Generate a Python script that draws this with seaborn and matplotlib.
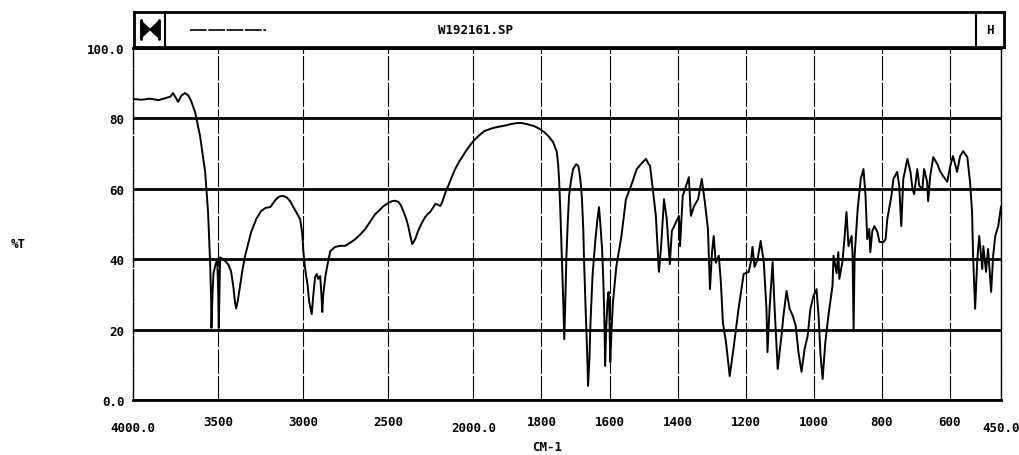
import numpy as np
import pandas as pd
import matplotlib
matplotlib.use("Agg")
import matplotlib.pyplot as plt
from matplotlib.patches import Polygon
import seaborn as sns

# ---------------- data ----------------
wavenumber = [
    4000, 3950, 3900, 3850, 3806, 3780, 3765, 3750, 3735, 3715, 3694, 3675, 3659, 3635, 3606,
    3576, 3559, 3547, 3541, 3539, 3533, 3527, 3515, 3505, 3499, 3496, 3492, 3488, 3470, 3459,
    3440, 3424, 3410, 3400, 3394, 3385, 3371, 3355, 3341, 3306, 3275, 3247, 3220, 3194, 3175,
    3159, 3140, 3118, 3095, 3077, 3060, 3041, 3018, 3006, 3000, 2995, 2985, 2975, 2965, 2959,
    2950, 2942, 2930, 2920, 2912, 2900, 2893, 2888, 2882, 2870, 2859, 2841, 2812, 2780, 2753,
    2720, 2694, 2665, 2635, 2605, 2577, 2550, 2530, 2500, 2477, 2460, 2441, 2425, 2412, 2395,
    2383, 2370, 2359, 2350, 2342, 2325, 2312, 2295, 2283, 2265, 2254, 2235, 2224, 2210, 2195,
    2185, 2177, 2160, 2148, 2130, 2107, 2080, 2048, 2025, 2000,
    1985, 1968, 1945, 1927, 1905, 1889, 1870, 1859, 1840, 1821, 1805, 1792, 1780, 1766, 1755,
    1751, 1748, 1745, 1740, 1736, 1733, 1730, 1727, 1723, 1719, 1713, 1707, 1698, 1692, 1689,
    1684, 1681, 1677, 1675, 1670, 1666, 1663, 1659, 1656, 1650, 1642, 1636, 1631, 1627, 1622,
    1618, 1615, 1613, 1610, 1606, 1603, 1601, 1598, 1594, 1590, 1580, 1565, 1552, 1537, 1520,
    1508, 1493, 1485, 1481, 1473, 1464, 1455, 1449, 1440, 1432, 1423, 1417, 1405, 1396, 1393,
    1385, 1378, 1367, 1361, 1352, 1340, 1329, 1320, 1311, 1305, 1299, 1294, 1288, 1279, 1273,
    1267, 1258, 1247, 1236, 1221, 1206, 1191, 1185, 1180, 1174, 1165, 1156, 1147, 1139, 1136,
    1130, 1121, 1115, 1106, 1095, 1089, 1080, 1071, 1062, 1053, 1045, 1036, 1027, 1018, 1010,
    1001, 992, 986, 980, 974, 966, 957, 945, 942, 933, 928, 925, 916, 910, 904,
    898, 889, 886, 883, 880, 871, 862, 854, 848, 843, 837, 834, 828, 822, 813,
    807, 795, 789, 784, 772, 766, 755, 749, 743, 737, 725, 716, 710, 705, 696,
    690, 681, 676, 667, 664, 658, 649, 637, 629, 620, 608, 599, 591, 579, 570,
    561, 549, 541, 535, 532, 526, 520, 514, 505, 502, 494, 488, 479, 473, 467,
    458, 450,
]
transmittance = [
    85.5, 85.3, 85.6, 85.2, 85.8, 86.2, 87.2, 86.0, 84.7, 86.5, 87.2, 86.5, 85.0, 81.8, 75.0,
    64.8, 53.4, 39.2, 28.7, 20.5, 30.0, 36.0, 38.5, 40.0, 30.0, 20.5, 30.0, 40.5, 40.0, 39.5,
    38.5, 36.6, 32.0, 27.5, 26.0, 28.0, 32.4, 37.5, 41.0, 47.7, 51.5, 53.7, 54.6, 54.8, 56.0,
    57.1, 57.8, 58.0, 57.5, 56.5, 55.0, 53.4, 51.4, 47.5, 43.0, 40.0, 36.0, 33.0, 28.0, 26.5,
    24.4, 29.0, 35.0, 35.8, 34.4, 35.2, 30.0, 25.0, 30.0, 35.0, 38.0, 42.3, 43.5, 43.8, 43.8,
    44.8, 45.7, 47.0, 48.6, 50.8, 52.8, 54.0, 55.0, 56.0, 56.5, 56.6, 56.3, 55.2, 53.7, 51.5,
    49.4, 46.5, 44.3, 45.0, 45.7, 48.0, 49.4, 51.0, 52.0, 53.0, 53.4, 54.8, 55.7, 55.5, 55.1,
    56.0, 57.1, 59.5, 60.8, 63.0, 65.6, 68.0, 70.4, 72.0, 73.6,
    75.0, 76.4, 77.2, 77.6, 78.0, 78.4, 78.7, 78.7, 78.3, 77.8, 77.0, 76.1, 75.0, 73.3, 70.5,
    67.0, 62.0, 55.0, 40.0, 28.0, 17.3, 28.0, 40.0, 50.0, 58.0, 62.5, 65.6, 67.0, 66.5, 65.0,
    61.0, 57.0, 48.0, 40.0, 25.0, 14.0, 4.0, 12.0, 22.0, 35.3, 45.0, 51.0, 54.8, 50.0, 43.0,
    33.0, 22.0, 9.7, 20.0, 28.0, 30.7, 27.0, 10.8, 20.0, 27.8, 38.0, 46.6, 57.0, 60.8, 65.6,
    67.0, 68.5, 67.0, 66.5, 60.0, 52.3, 36.4, 43.0, 57.0, 51.4, 38.6, 48.0, 50.5, 52.3, 43.7,
    58.0, 60.0, 63.3, 52.3, 55.0, 57.0, 62.8, 56.2, 48.6, 31.5, 42.0, 46.6, 39.0, 41.0, 33.5,
    22.0, 16.5, 6.8, 14.5, 25.9, 35.8, 36.4, 39.2, 43.5, 37.8, 40.0, 45.2, 39.2, 25.9, 13.6,
    25.9, 39.2, 25.9, 8.8, 18.2, 24.0, 31.0, 25.9, 24.0, 21.0, 13.6, 8.0, 14.5, 18.2, 25.9,
    29.5, 31.5, 23.9, 12.5, 6.0, 16.5, 24.0, 32.4, 41.0, 36.0, 42.0, 34.4, 39.2, 45.7, 53.4,
    43.7, 46.6, 41.0, 20.2, 41.0, 54.3, 62.8, 65.6, 58.0, 45.7, 48.6, 42.0, 48.0, 49.4, 47.7,
    44.9, 44.9, 45.7, 51.4, 58.0, 62.8, 64.8, 60.8, 49.4, 62.8, 68.5, 64.8, 60.0, 58.5, 65.6,
    60.8, 60.0, 65.6, 62.0, 56.5, 63.6, 69.0, 67.0, 65.0, 63.6, 62.0, 66.5, 69.3, 64.8, 69.3,
    70.7, 69.0, 62.0, 53.4, 41.0, 25.9, 39.2, 46.6, 37.2, 43.7, 36.4, 42.9, 30.7, 41.0, 46.6,
    49.4, 55.0,
]
x_ticks = [4000, 3500, 3000, 2500, 2000, 1800, 1600, 1400, 1200, 1000, 800, 600, 450]
x_tick_labels = ["4000.0", "3500", "3000", "2500", "2000.0", "1800", "1600", "1400",
                 "1200", "1000", "800", "600", "450.0"]
y_ticks = [0, 20, 40, 60, 80, 100]
y_tick_labels = ["0.0", "20", "40", "60", "80", "100.0"]
title_text = "W192161.SP"
y_label = "%T"
x_label = "CM-1"

df = pd.DataFrame({"wn": wavenumber, "T": transmittance})

# ---------------- style ----------------
sns.set_theme(style="white")
plt.rcParams["font.family"] = ["DejaVu Sans Mono", "DejaVu Sans"]
plt.rcParams["font.weight"] = "bold"
FS = 9

W, H = 1020, 456
fig = plt.figure(figsize=(W / 100, H / 100), dpi=100)
fig.patch.set_facecolor("white")

def fx(px):
    return px / W

def fy(py):
    return 1 - py / H

ax = fig.add_axes([fx(133), fy(401), (1001 - 133) / W, (401 - 49) / H])
ax.set_facecolor("white")

# piecewise-linear wavenumber scale (2x expansion below 2000 cm-1)
def fwd(x):
    x = np.asarray(x, dtype=float)
    return np.where(x >= 2000, x - 2000, 2 * (x - 2000))

def inv(u):
    u = np.asarray(u, dtype=float)
    return np.where(u >= 0, u + 2000, u / 2 + 2000)

ax.set_xscale("function", functions=(fwd, inv))

sns.lineplot(data=df, x="wn", y="T", ax=ax, color="black", linewidth=1.4,
             sort=False, estimator=None, legend=False)

ax.set_xlim(4000, 450)
ax.set_ylim(0, 100)
ax.set_xticks(x_ticks)
ax.set_xticklabels(x_tick_labels)
ax.set_yticks(y_ticks)
ax.set_yticklabels(y_tick_labels)
ax.minorticks_off()
ax.set_xlabel("")
ax.set_ylabel("")

ax.tick_params(axis="both", which="major", direction="out", length=5, width=1,
               color="black", labelsize=FS, labelcolor="black")
ax.tick_params(axis="x", pad=6)
ax.tick_params(axis="y", pad=1)
for lab in ax.get_xticklabels() + ax.get_yticklabels():
    lab.set_fontweight("bold")
# staggered x labels like the original printout
for t, lab in zip(ax.xaxis.get_major_ticks(), x_tick_labels):
    if lab.endswith(".0"):
        t.set_pad(10)

ax.grid(True, axis="x", color="black", linewidth=0.8, linestyle=(0, (22, 2)))
ax.grid(True, axis="y", color="black", linewidth=2.0)
ax.set_axisbelow(True)

for side, lw in [("left", 1.0), ("right", 1.0), ("bottom", 2.0), ("top", 2.0)]:
    ax.spines[side].set_visible(True)
    ax.spines[side].set_color("black")
    ax.spines[side].set_linewidth(lw)
ax.spines["left"].set_linestyle((0, (22, 2)))

fig.text(fx(18), fy(245), y_label, ha="center", va="center", fontsize=FS,
         fontweight="bold", color="black")
fig.text(fx(547), fy(448), x_label, ha="center", va="center", fontsize=FS,
         fontweight="bold", color="black")

# ---------------- header bar ----------------
hx = fig.add_axes([fx(134), fy(48), (1004 - 134) / W, (48 - 13) / H])
hx.set_xlim(134, 1004)
hx.set_ylim(48, 13)
hx.set_xticks([])
hx.set_yticks([])
hx.set_facecolor("white")
for s in hx.spines.values():
    s.set_visible(True)
    s.set_color("black")
    s.set_linewidth(2)
hx.plot([165, 165], [13, 48], color="black", lw=1.5)
hx.plot([976, 976], [13, 48], color="black", lw=1.5)
# bow-tie icon
hx.add_patch(Polygon([[141, 22], [141, 39], [150, 30.5]], closed=True, color="black"))
hx.add_patch(Polygon([[159, 22], [159, 39], [150, 30.5]], closed=True, color="black"))
hx.plot([141, 141], [21, 40], color="black", lw=2)
hx.plot([159, 159], [21, 40], color="black", lw=2)
# trace sample line
hx.plot([190, 266], [31, 31], color="black", lw=1.2, linestyle=(0, (10, 1)))
hx.text(476, 30, title_text, ha="center", va="center", fontsize=FS,
        fontweight="bold", color="black")
hx.text(989.5, 30.5, "H", ha="center", va="center", fontsize=FS,
        fontweight="bold", color="black")

fig.savefig("out.png", dpi=100, facecolor="white")
